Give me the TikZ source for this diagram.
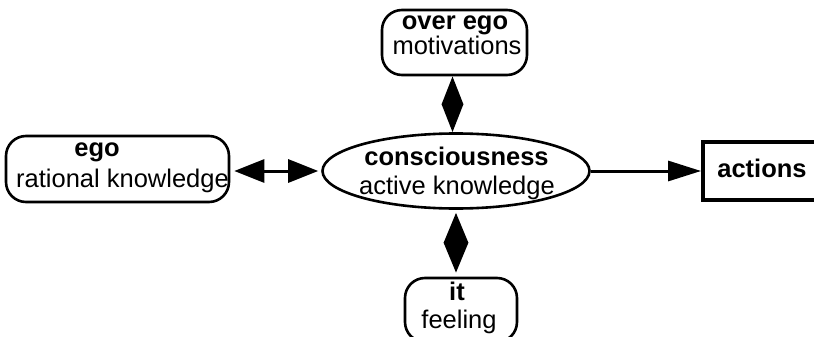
\documentclass[tikz,border=0pt]{standalone}
\usepackage{fontspec}
\setmainfont{Liberation Sans}
\usetikzlibrary{shapes.geometric,arrows.meta}
\begin{document}
\begin{tikzpicture}[x=1pt,y=-1pt,
  rbox/.style={draw,line width=2.6pt,rounded corners=20pt,inner sep=0pt},
  lbl/.style={inner sep=0pt,anchor=base,font=\fontsize{25.5}{30}\selectfont},
  blbl/.style={inner sep=0pt,anchor=base,font=\fontsize{25.5}{30}\selectfont\bfseries},
  hconn/.style={line width=3pt,{Triangle[length=30pt,width=23pt]}-{Triangle[length=30pt,width=23pt]}},
  rconn/.style={line width=3pt,-{Triangle[length=33pt,width=20pt]}},
  vconnA/.style={line width=3pt,{Triangle[length=28pt,width=21pt]}-{Triangle[length=28pt,width=21pt]}},
  vconnB/.style={line width=3pt,{Triangle[length=30pt,width=24pt]}-{Triangle[length=30pt,width=24pt]}}
]
\useasboundingbox (0,0) rectangle (814,337);

% ego
\node[rbox, minimum width=223pt, minimum height=66pt] (ego) at (117.5,169) {};
\node[blbl] (egot) at (97,156) {ego};
\node[lbl, anchor=base west] (egok) at (16,187) {rational knowledge};

% consciousness
\node[draw, ellipse, line width=2.6pt, minimum width=267pt, minimum height=75pt, inner sep=0pt] (ell) at (456,171) {};
\node[blbl] (c1) at (456.5,165) {consciousness};
\node[lbl] (c2) at (457,194) {active knowledge};

% over ego
\node[rbox, minimum width=145pt, minimum height=65pt] (over) at (454.5,42.5) {};
\node[blbl] (o1) at (455,30) {over ego};
\node[lbl] (o2) at (457,55) {motivations};

% it
\node[rbox, minimum width=112pt, minimum height=64pt] (it) at (461,310) {};
\node[blbl] (i1) at (457,300) {it};
\node[lbl] (i2) at (459,328) {feeling};

% actions
\node[draw, line width=3.8pt, minimum width=126pt, minimum height=58pt, inner sep=0pt] (act) at (766,171) {};
\node[blbl] (a1) at (762,177) {actions};

% connectors
\draw[hconn] ([xshift=4pt]ego.east |- ell.west) -- ([xshift=-3pt]ell.west);
\draw[rconn] (ell.east) -- (act.west);
\draw[vconnA] ([xshift=-2pt]over.south) -- ([xshift=-2pt]over.south |- ell.north);
\draw[vconnB, shorten <=3pt, shorten >=4pt] (ell.south) -- (ell.south |- it.north);
\end{tikzpicture}
\end{document}
